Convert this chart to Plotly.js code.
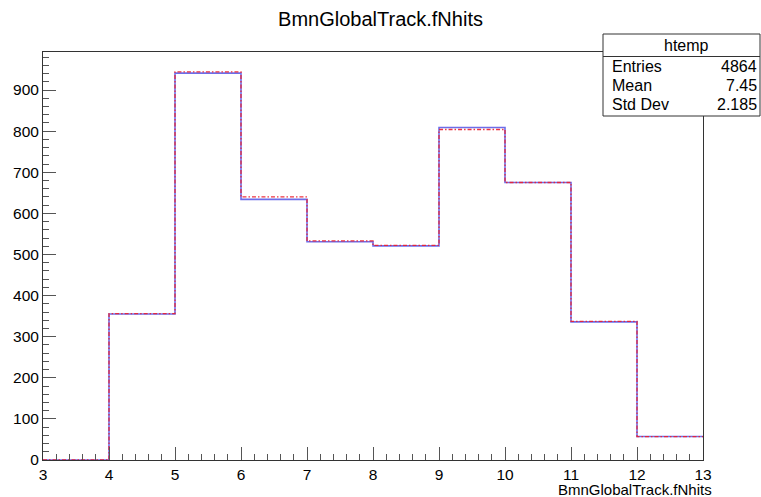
<!DOCTYPE html>
<html>
<head>
<meta charset="utf-8">
<script src="https://cdn.plot.ly/plotly-3.0.1.min.js"></script>
<style>html,body{margin:0;padding:0;background:#fff}#chart{width:761px;height:497px}</style>
</head>
<body>
<div id="chart"></div>
<script>
// ---- data ----
const binEdges = [3, 4, 5, 6, 7, 8, 9, 10, 11, 12, 13];
const blueCounts = [0, 355, 941, 634, 531, 521, 809, 675, 336, 57];
const redCounts  = [0, 356, 944, 640, 533, 522, 804, 675, 337, 57];
const xTicks = [3, 4, 5, 6, 7, 8, 9, 10, 11, 12, 13];
const yTicks = [0, 100, 200, 300, 400, 500, 600, 700, 800, 900];
const statLabels = ["Entries", "Mean", "Std Dev"];
const statValues = ["4864", "7.45", "2.185"];
const statName = "htemp";
const titleText = "BmnGlobalTrack.fNhits";

// ---- layout geometry (pixels) ----
const W = 761, H = 497;
const L = 43, R = 703, T = 52, B = 460;
const px = x => (x - L) / (R - L);
const py = y => (B - y) / (B - T);

const stepY = arr => arr.concat([arr[arr.length - 1]]);

const font = "Liberation Sans, Arial, Helvetica, sans-serif";

const traces = [
  {x: binEdges, y: stepY(blueCounts), mode: "lines", line: {shape: "hv", color: "rgba(60,60,225,0.75)", width: 1.6}, hoverinfo: "skip"},
  {x: binEdges, y: stepY(redCounts), mode: "lines", line: {shape: "hv", color: "rgba(235,30,45,0.9)", width: 1.3, dash: "4px,2px,1.5px,2px"}, hoverinfo: "skip"}
];

const axisCommon = {
  showgrid: false, zeroline: false, showline: true, mirror: true,
  linecolor: "#333", linewidth: 1,
  ticks: "inside", ticklen: 13, tickcolor: "#555", tickwidth: 1,
  tickfont: {family: font, size: 15.5, color: "#000"}
};

const layout = {
  width: W, height: H,
  margin: {l: L, r: W - R, t: T, b: H - B, pad: 0},
  paper_bgcolor: "#fff", plot_bgcolor: "#fff",
  showlegend: false,
  title: {text: titleText, font: {family: font, size: 20, color: "#000"}, xref: "container", x: 0.5, xanchor: "center", yref: "container", y: 1 - 19 / H, yanchor: "middle"},
  xaxis: Object.assign({}, axisCommon, {
    range: [3, 13], tickvals: xTicks, ticktext: xTicks.map(String),
    minor: {dtick: 0.2, tick0: 3, ticks: "inside", ticklen: 6, tickcolor: "#555", tickwidth: 1}
  }),
  yaxis: Object.assign({}, axisCommon, {
    range: [0, 992.5], tickvals: yTicks, ticktext: yTicks.map(String),
    minor: {dtick: 20, tick0: 0, ticks: "inside", ticklen: 6, tickcolor: "#555", tickwidth: 1}
  }),
  shapes: [
    {type: "rect", xref: "paper", yref: "paper", x0: px(603), x1: px(760), y0: py(116), y1: py(34), line: {color: "#333", width: 1}, fillcolor: "#fff", layer: "above"},
    {type: "line", xref: "paper", yref: "paper", x0: px(603), x1: px(760), y0: py(56.5), y1: py(56.5), line: {color: "#333", width: 1}, layer: "above"}
  ],
  annotations: [
    {xref: "paper", yref: "paper", x: px(714), y: py(489.5), xanchor: "right", yanchor: "middle", text: titleText, showarrow: false, font: {family: font, size: 15, color: "#000"}},
    {xref: "paper", yref: "paper", x: px(686), y: py(45), xanchor: "center", yanchor: "middle", text: statName, showarrow: false, font: {family: font, size: 16, color: "#000"}}
  ]
};

const rowY = [66.5, 85.5, 104.5];
statLabels.forEach((lab, i) => {
  layout.annotations.push({xref: "paper", yref: "paper", x: px(610), y: py(rowY[i]), xanchor: "left", yanchor: "middle", text: lab, showarrow: false, font: {family: font, size: 16, color: "#000"}});
  layout.annotations.push({xref: "paper", yref: "paper", x: px(759), y: py(rowY[i]), xanchor: "right", yanchor: "middle", text: statValues[i], showarrow: false, font: {family: font, size: 16, color: "#000"}});
});

Plotly.newPlot("chart", traces, layout, {staticPlot: true, displayModeBar: false});
</script>
</body>
</html>
